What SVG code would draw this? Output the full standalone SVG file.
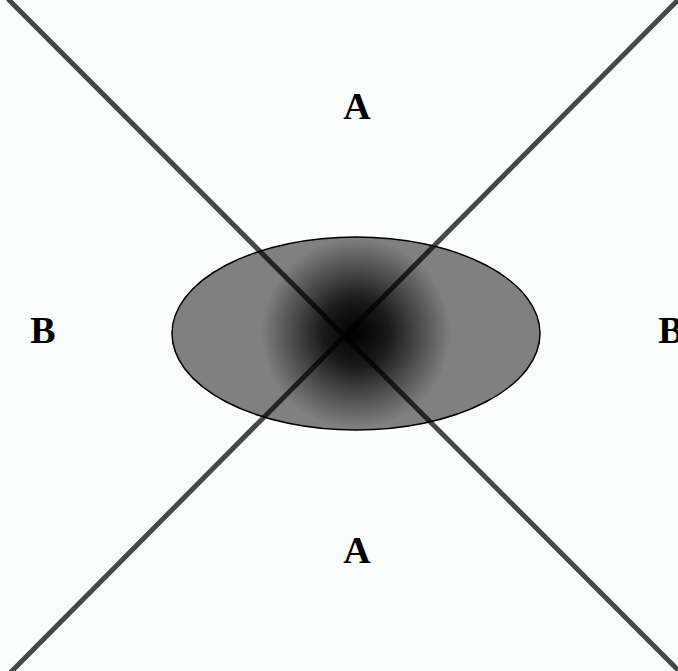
<svg xmlns="http://www.w3.org/2000/svg" width="678" height="671" viewBox="0 0 678 671">
<style>
.lbl{font-family:"Liberation Serif","Times New Roman",serif;font-weight:bold;font-size:38px;text-anchor:middle;fill:#000}
.ln{stroke:#000;stroke-opacity:0.72;stroke-width:5;fill:none}
</style>
<defs>
<radialGradient id="g" gradientUnits="userSpaceOnUse" cx="356" cy="333" r="95">
<stop offset="0" stop-color="#000"/>
<stop offset="0.35" stop-color="#1a1a1a"/>
<stop offset="1" stop-color="#808080"/>
</radialGradient>
</defs>
<rect width="678" height="671" fill="#fbfdfd"/>
<g id="ellipse">
<ellipse cx="356" cy="333.5" rx="184" ry="96.5" fill="url(#g)" stroke="#000" stroke-width="1.5"/>
</g>
<g id="connectors">
<line class="ln" x1="8" y1="-1" x2="680" y2="672"/>
<line class="ln" x1="679" y1="-1" x2="11" y2="672"/>
</g>
<g id="label-a-top"><text class="lbl" x="357" y="119">A</text></g>
<g id="label-a-bottom"><text class="lbl" x="357" y="563">A</text></g>
<g id="label-b-left"><text class="lbl" x="43" y="343">B</text></g>
<g id="label-b-right"><text class="lbl" x="671" y="343">B</text></g>
</svg>
